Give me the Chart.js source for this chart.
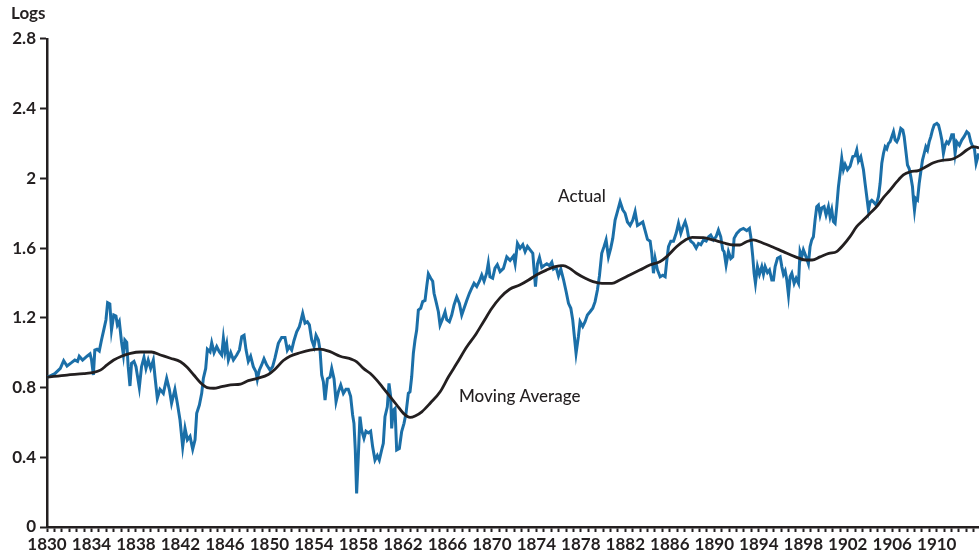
<!DOCTYPE html>
<html><head><meta charset="utf-8">
<script src="https://cdn.jsdelivr.net/npm/chart.js@4.4.1/dist/chart.umd.min.js"></script>
<style>html,body{margin:0;padding:0;background:#fff;overflow:hidden}</style>
</head><body>
<canvas id="c" width="979" height="558"></canvas>
<script>
const actualYears = [1830.0,1830.12,1830.7,1831.2,1831.5,1831.8,1832.2,1832.5,1832.75,1832.9,1833.2,1833.6,1833.87,1834.0,1834.17,1834.3,1834.5,1834.7,1834.9,1835.1,1835.3,1835.45,1835.65,1835.8,1836.0,1836.2,1836.33,1836.5,1836.7,1836.87,1837.0,1837.17,1837.3,1837.46,1837.6,1837.82,1838.0,1838.15,1838.3,1838.5,1838.72,1838.9,1839.1,1839.32,1839.56,1839.71,1839.92,1840.16,1840.46,1840.76,1841.0,1841.2,1841.5,1841.72,1841.96,1842.2,1842.41,1842.62,1842.86,1843.1,1843.31,1843.46,1843.7,1843.91,1844.06,1844.27,1844.42,1844.66,1844.81,1845.02,1845.26,1845.5,1845.71,1845.86,1846.01,1846.16,1846.31,1846.52,1846.76,1847.06,1847.3,1847.51,1847.72,1847.9,1848.1,1848.31,1848.55,1848.79,1848.91,1849.09,1849.3,1849.51,1849.75,1850.05,1850.29,1850.5,1850.8,1851.1,1851.4,1851.61,1851.79,1852.0,1852.21,1852.45,1852.69,1852.81,1852.99,1853.2,1853.41,1853.59,1853.8,1854.01,1854.19,1854.4,1854.55,1854.7,1854.85,1855.0,1855.21,1855.45,1855.6,1855.81,1855.99,1856.2,1856.41,1856.65,1856.88,1857.09,1857.3,1857.48,1857.6,1857.72,1857.84,1857.99,1858.14,1858.29,1858.5,1858.68,1858.89,1859.1,1859.28,1859.49,1859.7,1859.88,1860.09,1860.24,1860.39,1860.6,1860.75,1860.9,1860.99,1861.14,1861.29,1861.44,1861.68,1861.89,1862.1,1862.28,1862.49,1862.64,1862.79,1862.94,1863.09,1863.24,1863.39,1863.6,1863.78,1863.99,1864.14,1864.29,1864.5,1864.68,1864.8,1864.98,1865.19,1865.34,1865.58,1865.79,1865.94,1866.18,1866.39,1866.6,1866.84,1867.08,1867.29,1867.5,1867.74,1867.98,1868.19,1868.4,1868.64,1868.88,1869.09,1869.3,1869.53,1869.68,1869.83,1870.07,1870.28,1870.49,1870.74,1871.04,1871.34,1871.64,1871.94,1872.09,1872.3,1872.54,1872.78,1872.99,1873.2,1873.44,1873.68,1873.8,1873.92,1874.1,1874.28,1874.49,1874.7,1874.94,1875.18,1875.39,1875.54,1875.78,1875.99,1876.2,1876.44,1876.68,1876.89,1877.1,1877.27,1877.39,1877.57,1877.78,1877.93,1878.17,1878.38,1878.59,1878.83,1879.07,1879.28,1879.49,1879.67,1879.88,1880.09,1880.27,1880.48,1880.69,1880.87,1881.08,1881.29,1881.53,1881.77,1881.98,1882.19,1882.43,1882.67,1882.88,1883.09,1883.33,1883.57,1883.78,1883.99,1884.23,1884.38,1884.53,1884.68,1884.89,1885.13,1885.37,1885.58,1885.73,1885.88,1886.09,1886.33,1886.57,1886.78,1886.99,1887.17,1887.38,1887.53,1887.68,1887.89,1888.13,1888.37,1888.58,1888.79,1889.03,1889.27,1889.49,1889.68,1889.92,1890.16,1890.37,1890.58,1890.76,1890.88,1891.06,1891.27,1891.48,1891.66,1891.78,1892.02,1892.32,1892.62,1892.92,1893.16,1893.28,1893.46,1893.58,1893.7,1893.88,1894.06,1894.27,1894.42,1894.57,1894.78,1894.96,1895.17,1895.32,1895.47,1895.68,1895.92,1896.07,1896.22,1896.37,1896.52,1896.67,1896.82,1896.97,1897.18,1897.36,1897.57,1897.71,1897.86,1898.01,1898.25,1898.46,1898.61,1898.76,1898.91,1899.06,1899.21,1899.36,1899.51,1899.66,1899.87,1900.05,1900.26,1900.41,1900.56,1900.71,1900.86,1901.01,1901.16,1901.31,1901.46,1901.61,1901.76,1901.97,1902.21,1902.45,1902.66,1902.81,1902.96,1903.17,1903.41,1903.56,1903.71,1903.86,1904.01,1904.16,1904.31,1904.55,1904.76,1904.91,1905.06,1905.21,1905.36,1905.51,1905.66,1905.81,1905.96,1906.11,1906.26,1906.41,1906.56,1906.77,1906.95,1907.07,1907.25,1907.37,1907.52,1907.67,1907.82,1907.91,1908.0,1908.12,1908.27,1908.42,1908.57,1908.72,1908.87,1909.02,1909.17,1909.32,1909.47,1909.62,1909.77,1910.01,1910.16,1910.31,1910.46,1910.6,1910.75,1910.9,1911.05,1911.2,1911.35,1911.5,1911.65,1911.8,1912.04,1912.25,1912.46,1912.7,1912.88,1913.06,1913.24,1913.39,1913.54,1913.66,1913.78];
const actualValues = [0.86,0.862,0.88,0.91,0.954,0.924,0.943,0.958,0.95,0.98,0.958,0.98,0.993,0.96,0.872,1.015,1.02,1.01,1.073,1.13,1.188,1.287,1.28,1.13,1.216,1.21,1.159,1.18,1.063,0.987,1.073,1.06,0.92,0.809,0.939,0.95,0.92,0.86,0.80,0.92,0.973,0.91,0.958,0.91,0.958,0.862,0.738,0.79,0.767,0.853,0.79,0.71,0.79,0.71,0.614,0.46,0.566,0.50,0.52,0.446,0.50,0.652,0.70,0.767,0.853,0.91,1.02,1.005,1.057,1.0,1.035,1.005,0.987,1.083,1.005,1.05,0.958,1.0,0.958,0.987,1.015,1.092,1.10,1.015,0.95,0.98,0.92,0.89,0.847,0.90,0.93,0.965,0.93,0.90,0.92,0.97,1.054,1.088,1.088,1.015,1.035,1.015,1.07,1.12,1.149,1.178,1.226,1.17,1.178,1.16,1.073,1.035,1.10,1.073,1.015,0.872,0.834,0.728,0.85,0.86,0.91,0.85,0.719,0.776,0.815,0.766,0.79,0.79,0.75,0.643,0.595,0.442,0.193,0.404,0.633,0.556,0.509,0.55,0.54,0.55,0.46,0.384,0.41,0.384,0.442,0.48,0.633,0.69,0.824,0.75,0.566,0.67,0.68,0.442,0.45,0.547,0.595,0.652,0.767,0.776,0.862,0.996,1.073,1.13,1.245,1.255,1.293,1.30,1.379,1.452,1.427,1.41,1.341,1.293,1.235,1.159,1.197,1.235,1.19,1.178,1.216,1.274,1.32,1.283,1.216,1.255,1.30,1.341,1.37,1.398,1.38,1.41,1.446,1.41,1.456,1.513,1.435,1.427,1.485,1.505,1.465,1.484,1.55,1.53,1.555,1.51,1.628,1.60,1.62,1.58,1.61,1.59,1.57,1.474,1.379,1.51,1.547,1.49,1.50,1.51,1.50,1.52,1.48,1.49,1.44,1.48,1.42,1.35,1.283,1.255,1.188,1.111,0.996,1.092,1.178,1.15,1.178,1.216,1.235,1.255,1.293,1.36,1.44,1.57,1.61,1.647,1.55,1.60,1.656,1.761,1.809,1.866,1.82,1.80,1.75,1.73,1.76,1.809,1.73,1.74,1.75,1.70,1.65,1.64,1.57,1.456,1.54,1.475,1.436,1.445,1.436,1.53,1.608,1.64,1.64,1.685,1.742,1.685,1.72,1.752,1.72,1.665,1.64,1.627,1.60,1.627,1.62,1.647,1.64,1.665,1.675,1.647,1.665,1.704,1.665,1.59,1.58,1.503,1.58,1.54,1.55,1.656,1.684,1.704,1.713,1.70,1.713,1.665,1.55,1.456,1.398,1.494,1.45,1.494,1.45,1.494,1.46,1.475,1.417,1.417,1.494,1.542,1.55,1.494,1.45,1.47,1.417,1.331,1.436,1.456,1.398,1.427,1.398,1.58,1.55,1.59,1.55,1.51,1.608,1.647,1.665,1.761,1.838,1.847,1.79,1.83,1.838,1.79,1.838,1.78,1.82,1.752,1.742,1.838,1.952,2.03,2.115,2.05,2.08,2.05,2.07,2.125,2.13,2.163,2.10,2.125,2.05,1.97,1.895,1.818,1.866,1.875,1.866,1.847,1.895,1.972,2.087,2.143,2.182,2.17,2.2,2.21,2.24,2.268,2.22,2.21,2.23,2.287,2.278,2.24,2.143,2.077,2.057,2.01,1.952,1.876,1.818,1.885,1.876,1.97,2.04,2.105,2.143,2.182,2.163,2.21,2.24,2.278,2.306,2.316,2.306,2.268,2.22,2.143,2.19,2.21,2.2,2.22,2.25,2.25,2.143,2.21,2.19,2.22,2.24,2.268,2.258,2.21,2.182,2.17,2.087,2.115,2.143];
const avgYears = [1830.0,1831.8,1833.3,1834.2,1834.8,1835.4,1836.0,1836.7,1837.5,1838.4,1839.4,1840.2,1841.1,1842.0,1842.6,1843.2,1843.8,1844.4,1845.0,1845.7,1846.5,1847.4,1848.1,1848.9,1849.9,1850.5,1851.25,1851.85,1852.75,1853.65,1854.55,1855.45,1856.35,1857.4,1857.85,1858.45,1859.05,1859.65,1860.25,1860.85,1861.45,1862.05,1862.65,1863.1,1863.7,1864.45,1865.35,1866.1,1866.85,1867.75,1868.5,1869.25,1870.0,1870.75,1871.6,1872.5,1873.3,1874.0,1874.9,1875.7,1876.4,1877.0,1877.6,1878.4,1879.1,1879.9,1880.8,1881.5,1882.4,1883.3,1884.2,1885.1,1885.7,1886.6,1887.4,1888.0,1889.0,1889.9,1890.8,1891.7,1892.3,1892.9,1893.5,1894.3,1895.2,1896.2,1897.3,1898.2,1898.8,1899.5,1900.3,1901.0,1901.6,1902.2,1902.8,1903.4,1904.0,1904.6,1905.2,1905.8,1906.4,1907.0,1907.6,1908.35,1908.95,1909.7,1910.6,1911.35,1912.1,1912.7,1913.3,1913.8];
const avgValues = [0.86,0.872,0.88,0.887,0.90,0.93,0.958,0.98,0.996,1.004,1.004,0.987,0.968,0.948,0.916,0.872,0.828,0.80,0.796,0.805,0.815,0.82,0.84,0.853,0.875,0.905,0.955,0.98,1.0,1.015,1.021,1.006,0.98,0.962,0.948,0.91,0.882,0.843,0.796,0.748,0.70,0.652,0.629,0.637,0.661,0.71,0.776,0.862,0.939,1.034,1.10,1.178,1.255,1.316,1.364,1.388,1.417,1.446,1.474,1.494,1.50,1.484,1.456,1.427,1.408,1.398,1.398,1.417,1.446,1.474,1.503,1.522,1.55,1.608,1.647,1.662,1.66,1.647,1.631,1.618,1.618,1.637,1.647,1.631,1.608,1.58,1.55,1.532,1.532,1.55,1.57,1.58,1.618,1.666,1.723,1.761,1.80,1.838,1.89,1.933,1.98,2.02,2.038,2.045,2.064,2.09,2.105,2.11,2.134,2.163,2.182,2.175];
const yTickLabels = ['0','0.4','0.8','1.2','1.6','2','2.4','2.8'];
const xTickLabels = ['1830','1834','1838','1842','1846','1850','1854','1858','1862','1866','1870','1874','1878','1882','1886','1890','1894','1898','1902','1906','1910'];
const yAxisTitle = 'Logs';
const seriesNames = ['Actual','Moving Average'];
const labelAnchors = [[1878.1, 1.865],[1872.5, 0.717]];

const tickFont = {family:'Lato', size:17, weight:'bold'};
const INK = '#231f20';

const textPlugin = {
  id: 'texts',
  afterDraw(chart){
    const {ctx, scales:{x, y}} = chart;
    ctx.save();
    ctx.fillStyle = INK;
    ctx.textAlign = 'left';
    ctx.textBaseline = 'alphabetic';
    ctx.font = '700 17px Lato';
    ctx.fillText(yAxisTitle, 11, 19);
    ctx.font = '500 17px Lato';
    ctx.textAlign = 'center';
    seriesNames.forEach((n, i) => {
      ctx.fillText(n, x.getPixelForValue(labelAnchors[i][0]), y.getPixelForValue(labelAnchors[i][1]));
    });
    ctx.restore();
  }
};

const actualData = actualYears.map((yr, i) => ({x: yr, y: actualValues[i]}));
const avgData = avgYears.map((yr, i) => ({x: yr, y: avgValues[i]}));

new Chart(document.getElementById('c'), {
  type: 'line',
  data: {
    datasets: [
      {label: seriesNames[0], data: actualData, borderColor: '#1b6fa8', borderWidth: 3, pointRadius: 0, tension: 0, order: 1},
      {label: seriesNames[1], data: avgData, borderColor: '#231f20', borderWidth: 2.8, pointRadius: 0, cubicInterpolationMode: 'monotone', order: 0}
    ]
  },
  options: {
    responsive: false,
    animation: false,
    events: [],
    layout: {padding: {top: 39, left: 0, right: 0, bottom: 0}},
    plugins: {legend: {display: false}, tooltip: {enabled: false}},
    scales: {
      x: {
        type: 'linear', min: 1830, max: 1913.8,
        afterBuildTicks(scale){
          const t = [];
          for (let k = 0; 1830 + k*2/3 <= 1913.8; k++) t.push({value: 1830 + k*2/3});
          scale.ticks = t;
        },
        afterFit(scale){ scale.height = 31; },
        ticks: {autoSkip: false, maxRotation: 0, padding: 2, color: INK, font: tickFont,
          callback: (v, i) => (i % 6 === 0 && xTickLabels[i/6] !== undefined) ? xTickLabels[i/6] : ''},
        grid: {drawOnChartArea: false, drawTicks: true, tickLength: 5, tickColor: INK, tickWidth: 2},
        border: {color: INK, width: 2.5}
      },
      y: {
        type: 'linear', min: 0, max: 2.8,
        afterBuildTicks(scale){
          scale.ticks = yTickLabels.map((_, i) => ({value: i*0.4}));
        },
        afterFit(scale){ scale.width = 47; },
        ticks: {padding: 4, color: INK, font: tickFont, callback: (v, i) => yTickLabels[i]},
        grid: {drawOnChartArea: false, drawTicks: true, tickLength: 7, tickColor: INK, tickWidth: 2},
        border: {color: INK, width: 2.5}
      }
    }
  },
  plugins: [textPlugin]
});
</script>
</body></html>
